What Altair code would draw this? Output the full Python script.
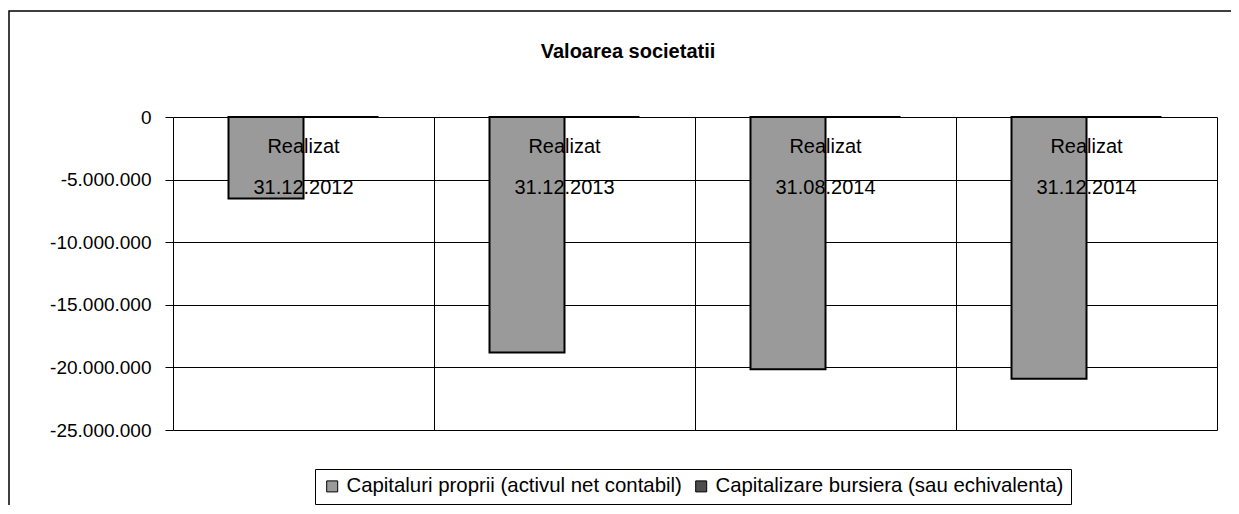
import altair as alt
import pandas as pd

categories = ["31.12.2012", "31.12.2013", "31.08.2014", "31.12.2014"]
series_names = ["Capitaluri proprii (activul net contabil)", "Capitalizare bursiera (sau echivalenta)"]
capitaluri_proprii = [-6500000, -18800000, -20150000, -20900000]
capitalizare_bursiera = [0, 0, 0, 0]
label_top = ["Realizat", "Realizat", "Realizat", "Realizat"]
y_ticks = [-25000000, -20000000, -15000000, -10000000, -5000000, 0]

FONT = "Liberation Sans"

rows = []
for c, a, b in zip(categories, capitaluri_proprii, capitalizare_bursiera):
    rows.append({"cat": c, "series": series_names[0], "value": a})
    rows.append({"cat": c, "series": series_names[1], "value": b})
df = pd.DataFrame(rows)
df_labels = pd.DataFrame({"cat": categories, "top": label_top})
df_frame = pd.DataFrame({"k": [0]})

x_enc = alt.X(
    "cat:N", sort=categories,
    scale=alt.Scale(paddingInner=0, paddingOuter=0),
    axis=alt.Axis(labels=False, ticks=False, domain=False, title=None, grid=True,
                  tickBand="extent", gridColor="black", gridOpacity=1, gridWidth=1),
)
y_scale = alt.Scale(domain=[-25000000, 0], nice=False)

bars = alt.Chart(df).mark_bar(stroke="black", strokeWidth=2, opacity=1).encode(
    x=x_enc,
    xOffset=alt.XOffset("series:N", sort=series_names,
                        scale=alt.Scale(paddingInner=0, paddingOuter=0.74)),
    y=alt.Y("value:Q", scale=y_scale,
            axis=alt.Axis(values=y_ticks, title=None, domain=False, grid=True,
                          gridColor="black", gridOpacity=1, gridWidth=1,
                          tickColor="black", tickSize=8, labelFontSize=19,
                          labelFont=FONT, labelColor="black", labelPadding=14,
                          labelExpr="replace(replace(replace(format(datum.value, ',.0f'), ',', '.'), ',', '.'), '\u2212', '-')")),
    color=alt.Color("series:N", sort=series_names,
                    scale=alt.Scale(domain=series_names, range=["#9a9a9a", "#4d4d4d"]),
                    legend=alt.Legend(title=None, orient="none", legendX=142, legendY=352,
                                      direction="horizontal", strokeColor="black", padding=7,
                                      fillColor="white", symbolType="square", symbolSize=121,
                                      symbolStrokeColor="black", symbolStrokeWidth=1,
                                      symbolOpacity=1, labelFontSize=20.4, labelFont=FONT,
                                      labelColor="black", labelOffset=4, columnPadding=9,
                                      labelLimit=0)),
)

text_top = alt.Chart(df_labels).mark_text(dy=30, fontSize=20, font=FONT, color="black",
                                          baseline="middle").encode(
    x=alt.X("cat:N", sort=categories), y=alt.datum(0), text="top:N")
text_date = alt.Chart(df_labels).mark_text(dy=71, fontSize=20, font=FONT, color="black",
                                           baseline="middle").encode(
    x=alt.X("cat:N", sort=categories), y=alt.datum(0), text="cat:N")

frame = alt.Chart(df_frame).mark_rect(fillOpacity=0, stroke="black", strokeWidth=1.5).encode(
    x=alt.value(-164), x2=alt.value(1200), y=alt.value(-106), y2=alt.value(500))

chart = alt.layer(frame, bars, text_top, text_date).properties(
    width=1044, height=313,
    autosize=alt.AutoSizeParams(type="none"),
    padding={"left": 165, "top": 109, "right": 14, "bottom": 75},
    title=alt.Title("Valoarea societatii", fontSize=20, fontWeight="bold", font=FONT,
                    color="black", anchor="middle", frame="group", baseline="alphabetic",
                    dx=-67, offset=-68),
).configure_view(stroke="black", strokeWidth=2).configure(background="white")

chart.save("out.html", embed_options={"renderer": "svg", "actions": False})
